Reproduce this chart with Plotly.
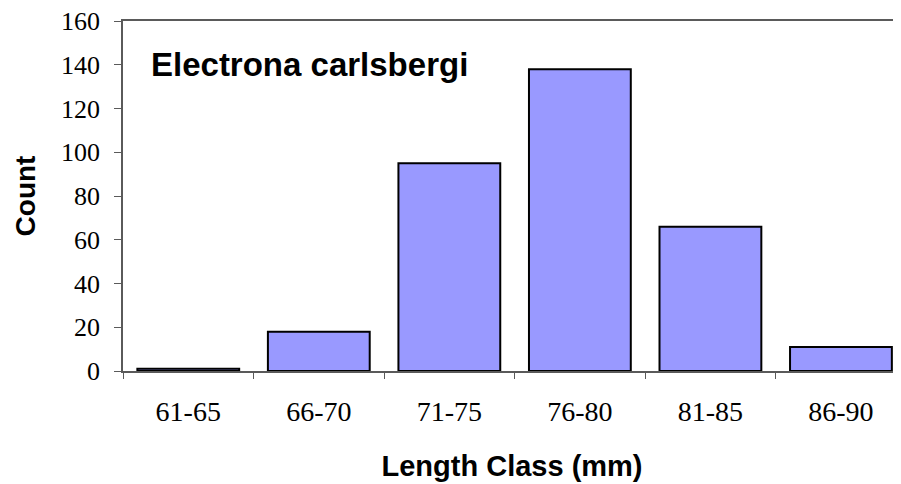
import plotly.graph_objects as go

# Length-frequency data
length_classes = ["61-65", "66-70", "71-75", "76-80", "81-85", "86-90"]
counts = [1, 18, 95, 138, 66, 11]
y_ticks = [0, 20, 40, 60, 80, 100, 120, 140, 160]

serif = "Times New Roman, Liberation Serif, serif"
sans = "Arial, Liberation Sans, sans-serif"
axis_grey = "#5a5a5a"

fig = go.Figure()

fig.add_trace(
    go.Bar(
        x=length_classes,
        y=counts,
        marker=dict(color="#9999FF", line=dict(color="black", width=2)),
        showlegend=False
    )
)

# Species label inside the plot area
fig.add_annotation(
    x=0.033, y=0.877,
    xref="paper", yref="paper",
    xanchor="left", yanchor="middle",
    text="<b>Electrona carlsbergi</b>",
    showarrow=False,
    font=dict(family=sans, size=33, color="black")
)

# page body adds an 8px margin, so the figure is sized to fit the window
fig.update_layout(
    width=893,
    height=476,
    bargap=0.22,
    plot_bgcolor="white",
    paper_bgcolor="white",
    margin=dict(l=115, r=0, t=13, b=113),
    xaxis=dict(
        range=[-0.5, 5.46],
        automargin=False,
        showline=True, linecolor=axis_grey, linewidth=1.5,
        mirror=True,
        ticks="outside", ticklen=6, tickcolor=axis_grey, tickwidth=1,
        tickson="boundaries",
        ticklabelstandoff=15,
        tickfont=dict(family=serif, size=28, color="black"),
        title=dict(
            text="<b>Length Class (mm)</b>",
            font=dict(family=sans, size=29, color="black"),
            standoff=29
        ),
        showgrid=False, zeroline=False
    ),
    yaxis=dict(
        range=[0, 160],
        automargin=False,
        tickvals=y_ticks,
        showline=True, linecolor=axis_grey, linewidth=1.5,
        ticks="outside", ticklen=7, tickcolor=axis_grey, tickwidth=1,
        ticklabelstandoff=9,
        ticklabeloverflow="allow",
        tickfont=dict(family=serif, size=26, color="black"),
        title=dict(
            text="<b>Count</b>",
            font=dict(family=sans, size=28, color="black"),
            standoff=17
        ),
        showgrid=False, zeroline=False
    )
)

fig.write_html("out.html")
